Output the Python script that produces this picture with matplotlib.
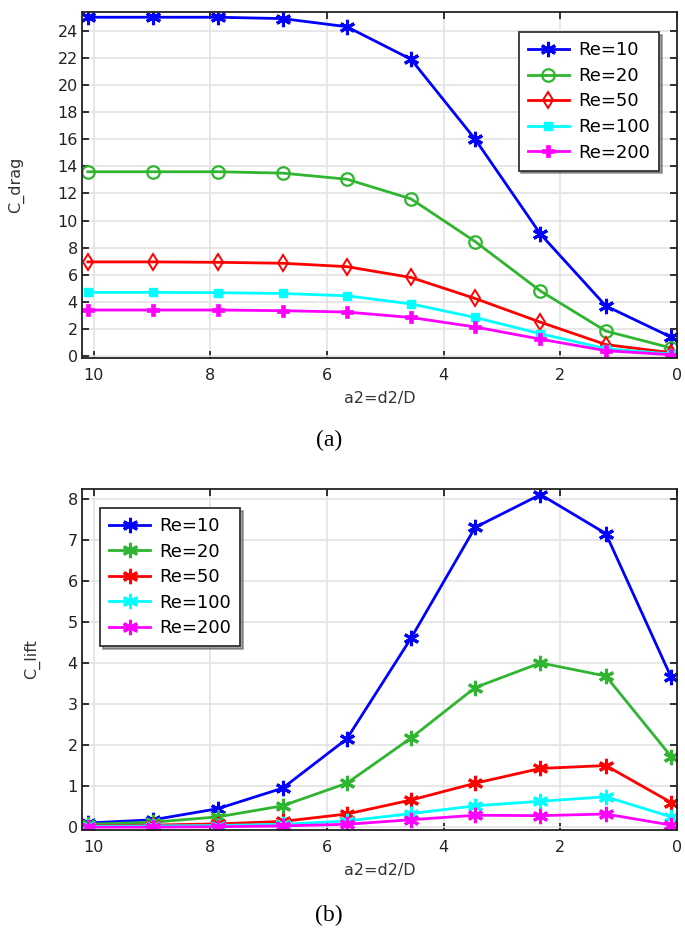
import matplotlib
matplotlib.use("Agg")
import matplotlib.pyplot as plt

# ---- data ----
a2 = [10.1, 8.98, 7.87, 6.76, 5.66, 4.56, 3.46, 2.34, 1.22, 0.1]
labels = ["Re=10", "Re=20", "Re=50", "Re=100", "Re=200"]

cdrag_re10 = [25.0, 25.0, 25.0, 24.9, 24.3, 21.9, 16.0, 9.0, 3.7, 1.4]
cdrag_re20 = [13.6, 13.6, 13.6, 13.5, 13.05, 11.6, 8.45, 4.8, 1.85, 0.6]
cdrag_re50 = [6.95, 6.95, 6.92, 6.85, 6.6, 5.8, 4.25, 2.5, 0.85, 0.25]
cdrag_re100 = [4.7, 4.7, 4.68, 4.62, 4.45, 3.85, 2.85, 1.65, 0.55, 0.15]
cdrag_re200 = [3.4, 3.4, 3.4, 3.35, 3.25, 2.85, 2.15, 1.25, 0.4, 0.1]

clift_re10 = [0.1, 0.18, 0.45, 0.95, 2.15, 4.6, 7.3, 8.1, 7.15, 3.65]
clift_re20 = [0.07, 0.12, 0.25, 0.52, 1.07, 2.17, 3.4, 4.0, 3.68, 1.72]
clift_re50 = [0.03, 0.05, 0.08, 0.14, 0.32, 0.66, 1.07, 1.43, 1.5, 0.6]
clift_re100 = [0.02, 0.03, 0.04, 0.07, 0.15, 0.33, 0.52, 0.63, 0.74, 0.25]
clift_re200 = [0.0, 0.0, 0.01, 0.03, 0.07, 0.18, 0.29, 0.28, 0.32, 0.05]

xticks = [10, 8, 6, 4, 2, 0]
drag_yticks = list(range(0, 25, 2))
lift_yticks = list(range(0, 9, 1))

colors = ["#0000ff", "#2fb52f", "#ff0000", "#00ffff", "#ff00ff"]
ast = (6, 2, 0)

plt.rcParams['font.family'] = ['DejaVu Sans']

fig = plt.figure(figsize=(6.85, 9.4), dpi=100)
ax1 = fig.add_axes([0.1197, 0.619, 0.8686, 0.368])
ax2 = fig.add_axes([0.1197, 0.117, 0.8686, 0.363])

drag = [cdrag_re10, cdrag_re20, cdrag_re50, cdrag_re100, cdrag_re200]
lift = [clift_re10, clift_re20, clift_re50, clift_re100, clift_re200]

drag_styles = [
    dict(marker=ast, ms=11, mew=2.2, mfc=colors[0]),
    dict(marker='o', ms=9, mew=1.6, mfc='none'),
    dict(marker='d', ms=8, mew=1.4, mfc='none'),
    dict(marker='s', ms=6, mew=1.0),
    dict(marker='P', ms=9, mew=0.5),
]

for y, c, lab, st in zip(drag, colors, labels, drag_styles):
    ax1.plot(a2, y, color=c, lw=2, label=lab, **st)
for y, c, lab in zip(lift, colors, labels):
    ax2.plot(a2, y, color=c, lw=2, label=lab, marker=ast, ms=11, mew=2.2)

def style(ax, yticks, ylim, ylabel, lp):
    ax.set_xlim(10.2, 0.05)
    ax.set_ylim(*ylim)
    ax.set_xticks(xticks)
    ax.set_yticks(yticks)
    ax.grid(True, color='#e3e3e3', lw=1.2)
    ax.set_axisbelow(True)
    ax.tick_params(direction='in', top=True, right=True, length=5, width=1.3,
                   labelsize=11.5, colors='#222222', pad=7)
    ax.tick_params(axis='y', pad=3)
    for s in ax.spines.values():
        s.set_linewidth(1.3)
        s.set_color('#222222')
    ax.set_xlabel("a2=d2/D", fontsize=11.5, color='#333333', labelpad=6)
    ax.set_ylabel(ylabel, fontsize=11.5, color='#333333', labelpad=lp)

style(ax1, drag_yticks, (-0.15, 25.37), "C_drag", 24)
style(ax2, lift_yticks, (-0.07, 8.24), "C_lift", 20)

legkw = dict(fontsize=13, fancybox=False, shadow=True, framealpha=1, edgecolor='#333333',
             handlelength=2.3, borderpad=0.5, labelspacing=0.42, handletextpad=0.5,
             borderaxespad=0)
leg1 = ax1.legend(loc='upper right', bbox_to_anchor=(0.97, 0.942), **legkw)
leg2 = ax2.legend(loc='upper left', bbox_to_anchor=(0.03, 0.944), **legkw)
for leg in (leg1, leg2):
    leg.get_frame().set_linewidth(1.3)

fig.text(0.48, 1 - 440 / 940, "(a)", ha='center', va='center', fontsize=17,
         family='Liberation Serif')
fig.text(0.48, 1 - 915 / 940, "(b)", ha='center', va='center', fontsize=17,
         family='Liberation Serif')

fig.savefig("out.png", dpi=100)
